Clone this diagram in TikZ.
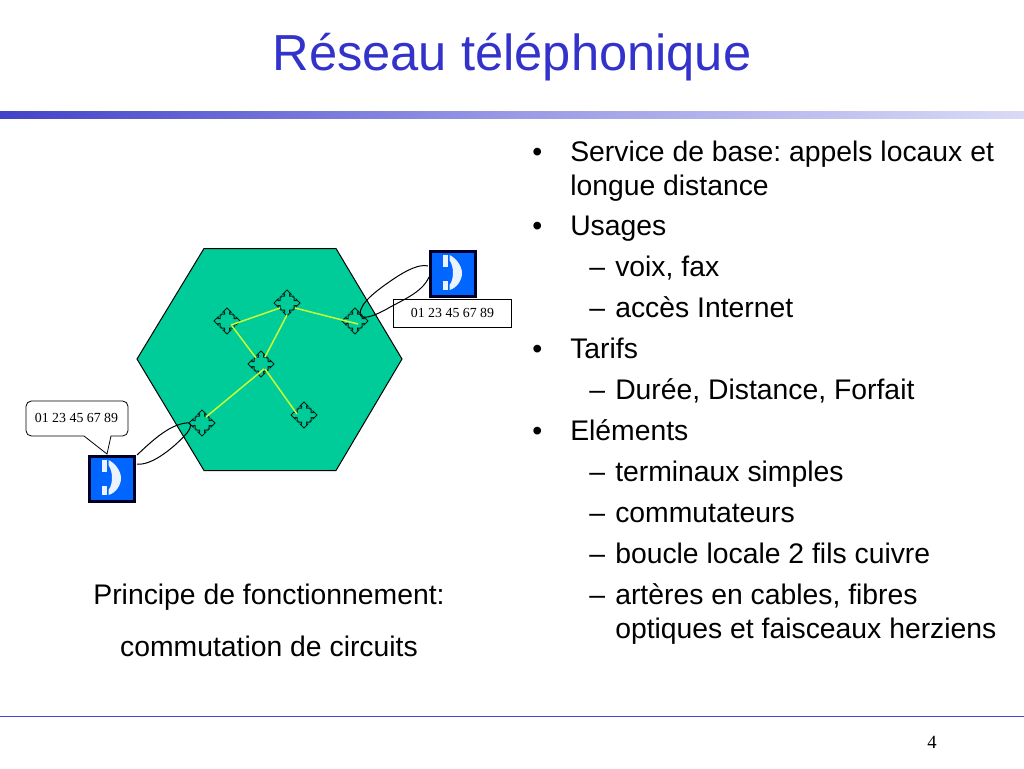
\documentclass[tikz,border=0pt]{standalone}
\usepackage{fontspec}
\usetikzlibrary{calc}
\setmainfont{Liberation Sans}
\newfontfamily\numfont{Liberation Serif}
\definecolor{titleblue}{RGB}{51,51,204}
\definecolor{hexgreen}{RGB}{0,204,153}
\definecolor{phoneblue}{RGB}{0,102,255}
\definecolor{linkyellow}{RGB}{204,255,51}
\definecolor{ruleblue}{RGB}{70,70,210}
\tikzset{
 x=0.75pt,y=-0.75pt,
 bodytext/.style={anchor=base west,inner sep=0pt,font=\fontsize{21.25}{21.25}\selectfont,text=black},
 centertext/.style={anchor=base,inner sep=0pt,font=\fontsize{21.25}{21.25}\selectfont,text=black},
 numbox/.style={draw=black,fill=white,line width=0.6pt,inner sep=0pt,font=\numfont\fontsize{10.4}{11}\selectfont},
 linkline/.style={draw=linkyellow,line width=1.1pt},
 loopline/.style={draw=black,line width=0.75pt},
 switchnode/.style={inner sep=0pt,minimum size=19.5pt,draw=none},
 phonebox/.style={draw=black!85!blue,fill=phoneblue,line width=2.4pt,minimum size=33.5pt,inner sep=0pt},
}
\newcommand{\switchshape}[1]{%
 \draw[black!85!hexgreen,line width=0.75pt,fill=hexgreen,shift={(#1)}]
  (0,-13)--(4,-9)--(2.5,-9)--(2.5,-7)--(6,-7)--(6,-6)--(7,-6)--(7,-2.5)--(9,-2.5)--(9,-4)--(13,0)
  --(9,4)--(9,2.5)--(7,2.5)--(7,6)--(6,6)--(6,7)--(2.5,7)--(2.5,9)--(4,9)--(0,13)
  --(-4,9)--(-2.5,9)--(-2.5,7)--(-6,7)--(-6,6)--(-7,6)--(-7,2.5)--(-9,2.5)--(-9,4)--(-13,0)
  --(-9,-4)--(-9,-2.5)--(-7,-2.5)--(-7,-6)--(-6,-6)--(-6,-7)--(-2.5,-7)--(-2.5,-9)--(-4,-9)--cycle;}
\newcommand{\phoneshape}[1]{%
 \begin{scope}[shift={(#1)}]
 \fill[white!92!phoneblue] (-10,-19)--(-5,-19)--(-5,-7)--(-10,-7)--cycle;
 \fill[white!92!phoneblue] (-10,7)--(-5,7)--(-5,16)--(-10,16)--cycle;
 \fill[white!92!phoneblue] (-3.5,-19) .. controls (3,-16) and (9,-8) .. (9,-1) .. controls (9,6) and (4,14) .. (-3.5,16)
   -- (-3.5,11) .. controls (-1,8) and (0,3) .. (0,-1) .. controls (0,-6) and (-1,-10) .. (-3.5,-14) -- cycle;
 \end{scope}}
\begin{document}
\begin{tikzpicture}
\frenchspacing
\useasboundingbox (0,0) rectangle (1024,768);
\fill[white] (0,0) rectangle (1024,768);
% title and rules
\node[anchor=base,inner sep=0pt,font=\fontsize{38}{38}\selectfont,text=titleblue] (title) at (512,70) {Réseau téléphonique};
\shade[left color=ruleblue!95!black,right color=ruleblue!20!white,middle color=ruleblue!55!white] (0,111) rectangle (1024,118);
\draw[ruleblue,line width=0.75pt] (0,716.5) -- (1024,716.5);
\node[anchor=base,inner sep=0pt,font=\numfont\fontsize{14}{14}\selectfont] (pagenum) at (932,748) {4};
% hexagon
\draw[fill=hexgreen,draw=black,line width=0.75pt] (204,248.5)--(336,248.5)--(402,359)--(336,470.5)--(204,470.5)--(137,359)--cycle;
% switches
\coordinate (s1) at (227,321);
\coordinate (s2) at (287,303);
\coordinate (s3) at (355,321);
\coordinate (s4) at (261,364);
\coordinate (s5) at (304,415);
\coordinate (s6) at (202,423);
\switchshape{s1}\switchshape{s2}\switchshape{s3}\switchshape{s4}\switchshape{s5}\switchshape{s6}
\node[switchnode] (n1) at (s1) {};
\node[switchnode] (n2) at (s2) {};
\node[switchnode] (n3) at (s3) {};
\node[switchnode] (n4) at (s4) {};
\node[switchnode] (n5) at (s5) {};
\node[switchnode] (n6) at (s6) {};
% links
\draw[linkline] ($(n1)+(4,4)$) -- ($(n2)+(-7,5)$);
\draw[linkline] ($(n2)+(8,5)$) -- ($(n3)+(3,3)$);
\draw[linkline] ($(n1)+(5,5)$) -- ($(n4)+(-5,-6)$);
\draw[linkline] ($(n2)+(0,12)$) -- ($(n4)+(4,-7)$);
\draw[linkline] ($(n4)+(3,5)$) -- ($(n6)+(4,-6)$);
\draw[linkline] ($(n4)+(4,5)$) -- ($(n5)+(-7,-1)$);
% phones
\node[phonebox] (ph1) at (453,274) {};
\phoneshape{453,274}
\node[phonebox] (ph2) at (112,479) {};
\phoneshape{112,479}
% number boxes
\node[numbox,minimum width=88.5pt,minimum height=21pt] (nb1) at (452.5,313) {01 23 45 67 89};
\draw[black,line width=0.6pt,fill=white] (84,436) [rounded corners=4pt] -- (26,436) -- (26,401) -- (128,401) -- (128,436) [sharp corners] -- (111,436) -- (107,454) -- cycle;
\node[inner sep=0pt,font=\numfont\fontsize{10.4}{11}\selectfont] (nb2) at (76.5,418) {01 23 45 67 89};
% loops
\draw[loopline] (428,266) .. controls (420,264) and (408,269) .. (392,280) .. controls (376,291) and (360,303) .. (360,314) .. controls (361,320) and (372,317) .. (385,310) .. controls (402,300) and (422,293) .. (429,277);
\draw[loopline] (137,455) .. controls (150,443) and (168,425) .. (186,423) .. controls (193,422) and (191,428) .. (187,433) .. controls (172,450) and (150,466) .. (137,464);
% right text
\foreach \y/\t in {161/Service de base: appels locaux et,195/longue distance,235.5/Usages,358.5/Tarifs,440.5/Eléments}{\node[bodytext] at (570,\y) {\t};}
\foreach \y in {161,235.5,358.5,440.5}{\node[bodytext] at (532,\y) {•};}
\foreach \y/\t in {276.5/{voix, fax},317.5/accès Internet,399.5/{Durée, Distance, Forfait},481.5/terminaux simples,522.5/commutateurs,563.5/boucle locale 2 fils cuivre,604.5/{artères en cables, fibres},638.5/optiques et faisceaux herziens}{\node[bodytext] at (615,\y) {\t};}
\foreach \y in {276.5,317.5,399.5,481.5,522.5,563.5,604.5}{\node[bodytext] at (589,\y) {–};}
% left caption
\node[centertext] (cap1) at (269,604.5) {Principe de fonctionnement:};
\node[centertext] (cap2) at (269,656) {commutation de circuits};
\end{tikzpicture}
\end{document}
